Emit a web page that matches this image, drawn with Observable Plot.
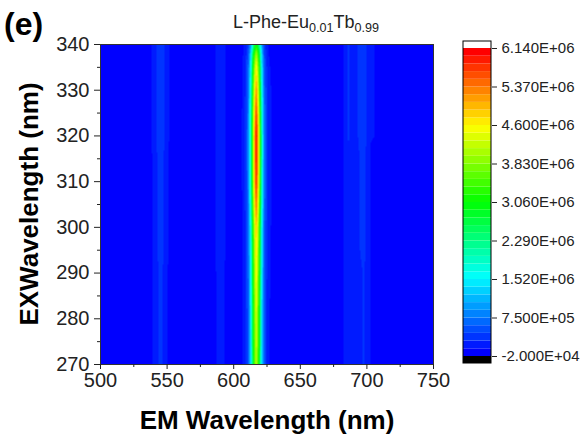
<!DOCTYPE html>
<html><head><meta charset="utf-8">
<script src="https://cdn.jsdelivr.net/npm/d3@7"></script>
<script src="https://cdn.jsdelivr.net/npm/@observablehq/plot@0.6"></script>
<style>
html,body{margin:0;padding:0;background:#fff;overflow:hidden}
#wrap{position:relative;width:584px;height:438px;font-family:"Liberation Sans",Arial,sans-serif;color:#222}
#wrap svg{position:absolute;top:0}
.abs{position:absolute;white-space:nowrap;line-height:1}
.abs sub{font-size:70%;vertical-align:-0.3em;line-height:0}
</style></head><body><div id="wrap"></div>
<script>
// Emission wavelengths (nm) of the sampled columns
const emWavelengths = [500, 536, 541, 545, 549, 554, 581, 586, 590, 594, 599,
  606, 609, 611, 613, 615, 617, 619, 621, 623, 626, 632,
  680, 686, 690, 694, 698, 703, 750];
// Excitation wavelengths (nm) of the sampled rows
const exWavelengths = [270, 275, 280, 285, 290, 295, 300, 305, 310, 315, 320, 325, 330, 335, 338, 340];
// Intensity (x 1E+06), one row per excitation wavelength
const intensityRows = [
  [.04,.04,.18,.36,.18,.04,.04,.11,.24,.11,.04, .08,.25,.59,1.47,3.15,4.20,3.02,1.39,.50,.15,.04, .04,.26,.20,.26,.30,.11,.04],
  [.04,.04,.18,.36,.18,.04,.04,.11,.24,.11,.04, .09,.26,.60,1.51,3.23,4.30,3.10,1.42,.52,.15,.04, .04,.26,.20,.26,.30,.11,.04],
  [.04,.04,.18,.36,.18,.04,.04,.11,.24,.11,.04, .09,.26,.62,1.54,3.30,4.40,3.17,1.45,.53,.15,.04, .04,.26,.20,.26,.30,.11,.04],
  [.04,.04,.18,.36,.18,.04,.04,.11,.24,.11,.04, .09,.27,.63,1.58,3.38,4.50,3.24,1.49,.54,.16,.04, .04,.26,.20,.26,.30,.11,.04],
  [.04,.04,.18,.36,.18,.04,.04,.11,.24,.11,.04, .09,.28,.65,1.63,3.49,4.65,3.35,1.53,.56,.16,.04, .04,.26,.20,.26,.30,.11,.04],
  [.04,.04,.20,.40,.20,.04,.04,.12,.26,.12,.04, .10,.29,.67,1.68,3.60,4.80,3.46,1.58,.58,.17,.04, .04,.28,.22,.28,.32,.12,.04],
  [.04,.04,.20,.40,.20,.04,.04,.12,.26,.12,.04, .10,.30,.70,1.75,3.75,5.00,3.60,1.65,.60,.18,.04, .04,.28,.22,.28,.32,.12,.04],
  [.04,.04,.20,.40,.20,.04,.04,.12,.26,.12,.04, .11,.33,.77,1.93,4.13,5.50,3.96,1.82,.66,.19,.04, .04,.28,.22,.28,.32,.12,.04],
  [.04,.04,.20,.40,.20,.04,.04,.12,.26,.12,.04, .12,.35,.83,2.07,4.43,5.90,4.25,1.95,.71,.21,.04, .04,.28,.22,.28,.32,.12,.04],
  [.04,.04,.20,.40,.20,.04,.04,.12,.26,.12,.04, .12,.36,.85,2.12,4.54,6.05,4.36,2.00,.73,.21,.04, .04,.28,.22,.28,.32,.12,.04],
  [.04,.04,.24,.46,.24,.04,.04,.13,.28,.13,.04, .12,.37,.85,2.14,4.58,6.10,4.39,2.01,.73,.21,.04, .04,.30,.24,.30,.36,.14,.04],
  [.04,.04,.24,.46,.24,.04,.04,.13,.28,.13,.04, .12,.35,.81,2.01,4.31,5.75,4.14,1.90,.69,.20,.04, .04,.30,.24,.30,.36,.14,.04],
  [.04,.04,.24,.46,.24,.04,.04,.13,.28,.13,.04, .11,.32,.74,1.86,3.98,5.30,3.82,1.75,.64,.19,.04, .04,.30,.24,.30,.36,.14,.04],
  [.04,.04,.24,.46,.24,.04,.04,.13,.28,.13,.04, .09,.28,.66,1.65,3.53,4.70,3.38,1.55,.56,.16,.04, .04,.30,.24,.30,.36,.14,.04],
  [.04,.04,.24,.46,.24,.04,.04,.13,.28,.13,.04, .08,.24,.56,1.40,3.00,4.00,2.88,1.32,.48,.14,.04, .04,.30,.24,.30,.36,.14,.04],
  [.04,.04,.24,.46,.24,.04,.04,.13,.28,.13,.04, .06,.19,.43,1.09,2.33,3.10,2.23,1.02,.37,.11,.04, .04,.30,.24,.30,.36,.14,.04]
];
const xTicks = [500, 550, 600, 650, 700, 750];
const xMinorTicks = [525, 575, 625, 675, 725];
const yTicks = [270, 280, 290, 300, 310, 320, 330, 340];
const yMinorTicks = [275, 285, 295, 305, 315, 325, 335];
const colorbarTicks = [-0.02, 0.75, 1.52, 2.29, 3.06, 3.83, 4.60, 5.37, 6.14];
const levelMin = -0.02, levelMax = 6.14, levelCount = 40;
const paletteStops = ["#0000ff", "#00ffff", "#00ff00", "#ffff00", "#ff0000"];

// table for the raster
const points = exWavelengths.flatMap((ex, i) => emWavelengths.map((em, j) => ({em, ex, v: intensityRows[i][j]})));

// discrete colour levels
const step = (levelMax - levelMin) / levelCount;
const thresholds = d3.range(levelCount + 1).map(i => +(levelMin + i * step).toFixed(5));
const interp = d3.piecewise(d3.interpolateRgb, paletteStops);
const bandColors = d3.range(levelCount).map(i => interp(i / (levelCount - 1)));
const colorScale = {type: "threshold", domain: thresholds, range: ["#000000", ...bandColors, "#ffffff"]};
const bands = d3.range(levelCount).map(i => ({lo: thresholds[i], hi: thresholds[i + 1], mid: (thresholds[i] + thresholds[i + 1]) / 2}));

function sci(v) {
  const s = (v * 1e6).toExponential(3);
  let [m, e] = s.split("e");
  const sign = e[0] === "-" ? "-" : "+";
  e = e.replace(/[+-]/, "");
  return m + "E" + sign + e.padStart(2, "0");
}

const font = "Liberation Sans, Arial, sans-serif";

const main = Plot.plot({
  width: 584, height: 438,
  marginLeft: 100, marginRight: 151, marginTop: 44, marginBottom: 74,
  style: {fontFamily: font, color: "#222", background: "transparent", overflow: "visible"},
  x: {domain: [500, 750]},
  y: {domain: [270, 340]},
  color: colorScale,
  marks: [
    Plot.raster(points, {x: "em", y: "ex", fill: "v", interpolate: "barycentric", x1: 500, x2: 750, y1: 270, y2: 340}),
    Plot.frame({stroke: "#333"}),
    Plot.axisX({ticks: xTicks, tickSize: 5, tickPadding: 3, fontSize: 20, label: null}),
    Plot.axisX({ticks: xMinorTicks, tickSize: 3, tickFormat: () => "", label: null}),
    Plot.axisY({ticks: yTicks, tickSize: 6, tickPadding: 5, fontSize: 20, label: null}),
    Plot.axisY({ticks: yMinorTicks, tickSize: 3, tickFormat: () => "", label: null}),
    Plot.text(["EM Wavelength (nm)"], {text: d => d, frameAnchor: "bottom", dy: 64, lineAnchor: "bottom", fontSize: 26, fontWeight: "bold", fill: "#000"})
  ]
});

const bar = Plot.plot({
  width: 129, height: 438,
  marginLeft: 8, marginRight: 93, marginTop: 48, marginBottom: 82,
  style: {fontFamily: font, color: "#222", background: "transparent", overflow: "visible"},
  x: {domain: [0, 1], axis: null},
  y: {domain: [levelMin, levelMax]},
  color: colorScale,
  marks: [
    Plot.rect(bands, {x1: 0, x2: 1, y1: "lo", y2: "hi", fill: "mid"}),
    Plot.rect([{lo: levelMax, hi: levelMax + 0.14}], {x1: 0, x2: 1, y1: "lo", y2: "hi", fill: "white"}),
    Plot.rect([{lo: levelMin - 0.14, hi: levelMin}], {x1: 0, x2: 1, y1: "lo", y2: "hi", fill: "black"}),
    Plot.rect([{lo: levelMin - 0.14, hi: levelMax + 0.14}], {x1: 0, x2: 1, y1: "lo", y2: "hi", fill: "none", stroke: "#000"}),
    Plot.axisY({anchor: "right", ticks: colorbarTicks, tickFormat: sci, tickSize: 5, tickPadding: 5, fontSize: 15, label: null})
  ]
});

const wrap = document.getElementById("wrap");
main.style.left = "0px";
bar.style.left = "455px";
wrap.appendChild(main);
wrap.appendChild(bar);

const ylab = document.createElement("div");
ylab.className = "abs";
ylab.style.cssText = "left:29px;top:204px;font-size:26px;font-weight:bold;color:#000;transform:translate(-50%,-50%) rotate(-90deg)";
ylab.textContent = "EXWavelength (nm)";
wrap.appendChild(ylab);

const title = document.createElement("div");
title.className = "abs";
title.style.cssText = "left:306px;top:13px;font-size:18px;transform:translateX(-50%);color:#222";
title.innerHTML = "L-Phe-Eu<sub>0.01</sub>Tb<sub>0.99</sub>";
wrap.appendChild(title);

const tag = document.createElement("div");
tag.className = "abs";
tag.style.cssText = "left:4px;top:8px;font-size:32px;font-weight:bold;color:#000";
tag.textContent = "(e)";
wrap.appendChild(tag);
</script>
</body></html>
